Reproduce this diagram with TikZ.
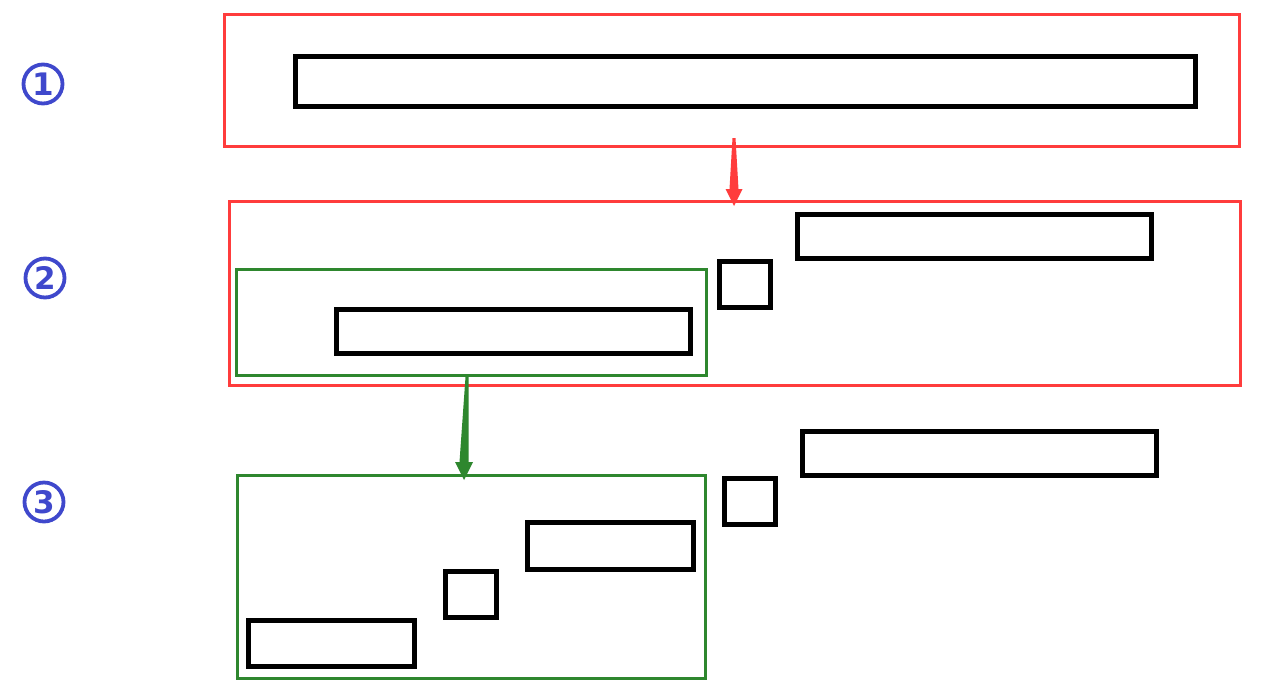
\documentclass[tikz,border=0pt]{standalone}
\usepackage{fontspec}
\newfontfamily\numfont{DejaVu Sans}
\usetikzlibrary{calc}
\definecolor{cred}{RGB}{255,60,60}
\definecolor{cgreen}{RGB}{46,135,46}
\definecolor{cblue}{RGB}{63,72,204}
\begin{document}
\begin{tikzpicture}[x=1pt,y=-1pt,
  redbox/.style={draw=cred,line width=3pt,inner sep=0pt},
  greenbox/.style={draw=cgreen,line width=3pt,inner sep=0pt},
  blkbox/.style={draw=black,line width=5pt,inner sep=0pt},
  numcirc/.style={circle,draw=cblue,line width=3.8pt,minimum size=39pt,inner sep=0pt,text=cblue,font=\numfont\bfseries\fontsize{31}{31}\selectfont}]
\useasboundingbox[fill=white] (0,0) rectangle (1276,689);
% step labels
\node[numcirc] (n1) at (43,84) {1};
\node[numcirc] (n2) at (45,278) {2};
\node[numcirc] (n3) at (44,502) {3};
% level 1
\node[redbox,minimum width=1015pt,minimum height=132pt] (r1) at (731.5,80) {};
\node[blkbox,minimum width=900pt,minimum height=50pt] (b1) at (745,81) {};
% level 2
\node[redbox,minimum width=1011pt,minimum height=184pt] (r2) at (734.5,293) {};
\node[blkbox,minimum width=354pt,minimum height=44pt] (b2a) at (974,236) {};
\node[blkbox,minimum width=51pt,minimum height=46pt] (s2) at (744.5,284) {};
\node[greenbox,minimum width=470pt,minimum height=106pt] (g2) at (471,322) {};
\node[blkbox,minimum width=354pt,minimum height=44pt] (b2b) at (513,331) {};
% level 3
\node[blkbox,minimum width=354pt,minimum height=44pt] (b3a) at (979,453) {};
\node[blkbox,minimum width=51pt,minimum height=46pt] (s3) at (749.5,501) {};
\node[greenbox,minimum width=468pt,minimum height=203pt] (g3) at (471,576.5) {};
\node[blkbox,minimum width=166pt,minimum height=47pt] (b3b) at (610,545.5) {};
\node[blkbox,minimum width=51pt,minimum height=46pt] (s3b) at (470.5,594) {};
\node[blkbox,minimum width=166pt,minimum height=46pt] (b3c) at (331,643) {};
% red arrow
\coordinate (ra1) at (734,138);
\coordinate (ra2) at (734,206);
\fill[cred] ($(ra1)+(-1.5,0)$) -- ($(ra2)+(-4.5,-17)$) -- ($(ra2)+(-8.5,-17)$) -- (ra2)
  -- ($(ra2)+(8.5,-17)$) -- ($(ra2)+(4.5,-17)$) -- ($(ra1)+(1.5,0)$) -- cycle;
% green arrow
\coordinate (ga1) at (467,377);
\coordinate (ga2) at (464,480);
\fill[cgreen] ($(ga1)+(-1.5,0)$) -- ($(ga2)+(-4.5,-18)$) -- ($(ga2)+(-9,-18)$) -- (ga2)
  -- ($(ga2)+(9,-18)$) -- ($(ga2)+(4.5,-18)$) -- ($(ga1)+(1.5,0)$) -- cycle;
\end{tikzpicture}
\end{document}
